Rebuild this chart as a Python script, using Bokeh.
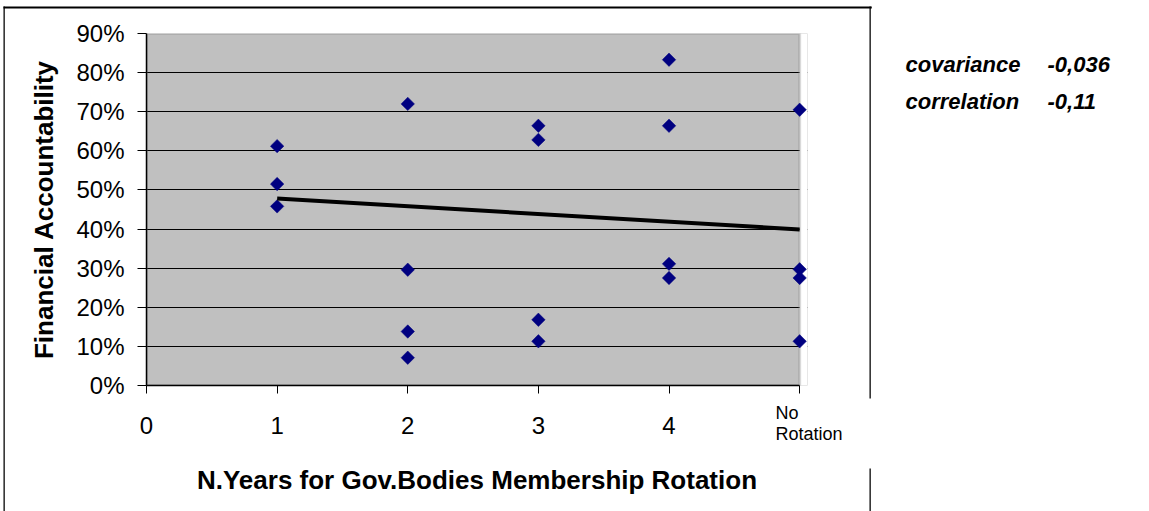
from bokeh.plotting import figure
from bokeh.models import (Range1d, FixedTicker, NumeralTickFormatter, Label,
                          BoxAnnotation, ColumnDataSource)
from bokeh.embed import file_html
from bokeh.resources import INLINE
import math

# Years between rotations of governing-body membership (5 = no rotation)
years = [1, 1, 1,
         2, 2, 2, 2,
         3, 3, 3, 3,
         4, 4, 4, 4,
         5, 5, 5, 5]
# Financial accountability score per body
accountability = [0.612, 0.515, 0.458,
                  0.720, 0.296, 0.138, 0.071,
                  0.664, 0.628, 0.168, 0.113,
                  0.833, 0.664, 0.311, 0.275,
                  0.705, 0.297, 0.275, 0.113]

# Linear trend end points
trend_x = [1, 5]
trend_y = [0.478, 0.399]

x_ticks = [0, 1, 2, 3, 4, 5]
x_tick_labels = {0: "0", 1: "1", 2: "2", 3: "3", 4: "4", 5: ""}
last_category = "No\nRotation"
y_ticks = [0.0, 0.1, 0.2, 0.3, 0.4, 0.5, 0.6, 0.7, 0.8, 0.9]
stats_names = ["covariance", "correlation"]
stats_values = ["-0,036", "-0,11"]

FONT = "Liberation Sans"
X_MAX, Y_MAX = 5, 0.9
X_PAD = 0.06  # room so markers on the last category are not cut

p = figure(width=1149, height=511, output_backend="svg", toolbar_location=None,
           x_range=Range1d(0, X_MAX + X_PAD), y_range=Range1d(0, Y_MAX),
           min_border_left=146, min_border_right=342,
           min_border_top=33, min_border_bottom=126)

p.background_fill_color = "#C0C0C0"
p.border_fill_color = "white"
p.outline_line_color = None

# grid
p.xgrid.visible = False
p.ygrid.ticker = FixedTicker(ticks=y_ticks)
p.ygrid.grid_line_color = "black"
p.ygrid.grid_line_width = 1

# blank strip past the last category, and the plot-area border
p.add_layout(BoxAnnotation(left=X_MAX, fill_color="white", fill_alpha=1,
                           line_alpha=0, level="underlay"))
p.add_layout(BoxAnnotation(left=0, right=X_MAX, bottom=0, top=Y_MAX,
                           fill_alpha=0, line_color="#808080", line_width=3,
                           level="underlay"))

# y axis
ya = p.yaxis[0]
ya.ticker = FixedTicker(ticks=y_ticks)
ya.formatter = NumeralTickFormatter(format="0%")
ya.axis_line_color = "black"
ya.axis_line_width = 1.5
ya.major_tick_out = 9
ya.major_tick_in = 0
ya.minor_tick_out = 0
ya.minor_tick_in = 0
ya.major_tick_line_color = "black"
ya.major_label_text_font = FONT
ya.major_label_text_font_size = "24px"
ya.major_label_text_color = "black"
ya.major_label_standoff = 13
ya.axis_label = "Financial Accountability"
ya.axis_label_text_font = FONT
ya.axis_label_text_font_style = "bold"
ya.axis_label_text_font_size = "26px"
ya.axis_label_text_color = "black"
ya.axis_label_standoff = 14

# x axis
xa = p.xaxis[0]
xa.ticker = FixedTicker(ticks=x_ticks)
xa.bounds = (0, X_MAX)
xa.major_label_overrides = x_tick_labels
xa.axis_line_color = "black"
xa.axis_line_width = 1.5
xa.major_tick_out = 8
xa.major_tick_in = 0
xa.minor_tick_out = 0
xa.minor_tick_in = 0
xa.major_tick_line_color = "black"
xa.major_label_text_font = FONT
xa.major_label_text_font_size = "24px"
xa.major_label_text_color = "black"
xa.major_label_standoff = 23
xa.axis_label = "N.Years for Gov.Bodies Membership Rotation"
xa.axis_label_text_font = FONT
xa.axis_label_text_font_style = "bold"
xa.axis_label_text_font_size = "26px"
xa.axis_label_text_color = "black"
xa.axis_label_standoff = 28

# observations
src = ColumnDataSource(dict(x=years, y=accountability))
p.scatter("x", "y", source=src, marker="square", size=9.5, angle=math.pi / 4,
          fill_color="#000080", line_color="#000080", line_width=0.5)

# trend
p.line(trend_x, trend_y, line_color="black", line_width=4)


def rule(left, top, width, height):
    """A thin filled bar in canvas pixels, used for the chart-area frame."""
    return Label(x=left, y=top, x_units="canvas", y_units="canvas", text=" ",
                 text_font_size="1px", text_align="left", text_baseline="top",
                 padding=dict(left=0, right=width, top=0, bottom=height),
                 border_line_alpha=0, background_fill_color="black",
                 background_fill_alpha=1)


# chart-area frame (right edge interrupted beside the axis title)
p.add_layout(rule(3, 6, 868, 1), "above")
p.add_layout(rule(3, 6, 1, 505), "left")
p.add_layout(rule(869, 6, 1, 391), "right")
p.add_layout(rule(869, 468, 1, 43), "right")

# two-line label for the last category
p.add_layout(Label(x=775, y=423, x_units="canvas", y_units="canvas",
                   text=last_category, text_font=FONT, text_font_size="18px",
                   text_line_height=1.03, text_color="black",
                   text_baseline="middle", text_align="left"), "right")

# statistics box
for tx, lines in ((905, stats_names), (1047, stats_values)):
    p.add_layout(Label(x=tx, y=82.5, x_units="canvas", y_units="canvas",
                       text="\n".join(lines), text_font=FONT,
                       text_font_style="bold italic", text_font_size="22px",
                       text_line_height=1.5, text_color="black",
                       text_baseline="middle", text_align="left"), "right")

open("out.html", "w").write(file_html(p, INLINE))
